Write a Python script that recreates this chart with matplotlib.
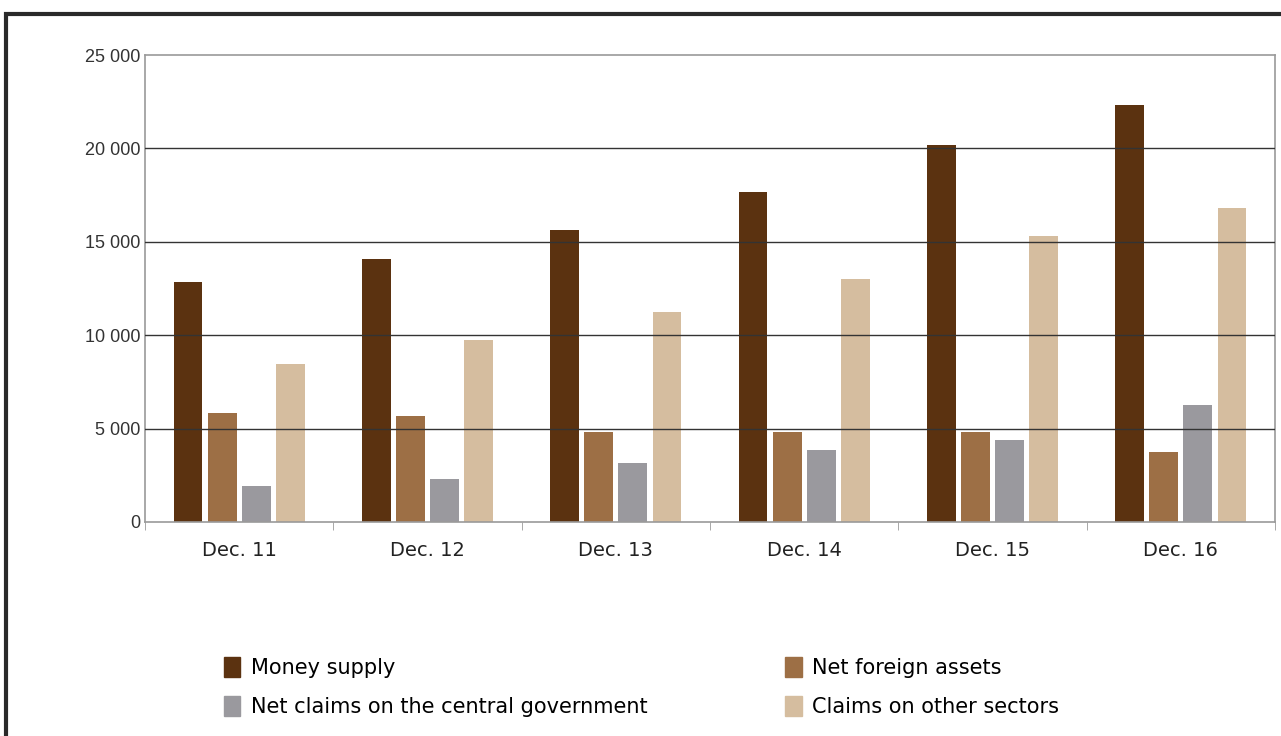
import matplotlib.pyplot as plt
import numpy as np
from matplotlib.patches import Patch, Rectangle

# Monetary aggregates, end of December each year
periods = ["Dec. 11", "Dec. 12", "Dec. 13", "Dec. 14", "Dec. 15", "Dec. 16"]
money_supply = [12850, 14100, 15650, 17650, 20200, 22300]
net_foreign_assets = [5850, 5650, 4800, 4800, 4800, 3750]
net_claims_govt = [1950, 2300, 3150, 3850, 4400, 6250]
claims_other = [8450, 9750, 11250, 13000, 15300, 16800]

series = [
    ("Money supply", money_supply, "#5b3210"),
    ("Net foreign assets", net_foreign_assets, "#9d6f45"),
    ("Net claims on the central government", net_claims_govt, "#9a999e"),
    ("Claims on other sectors", claims_other, "#d5bd9f"),
]

W, H = 1281, 736
fig = plt.figure(figsize=(W / 100, H / 100), dpi=100)
fig.patch.set_facecolor("white")

# heavy frame round the whole box (runs off the right and bottom edges)
fig.add_artist(Rectangle((6 / W, -0.05), 1.2, 1 - 14 / H + 0.05,
                         transform=fig.transFigure, fill=False,
                         edgecolor="#2a2a2a", linewidth=3))

ax = fig.add_axes([145 / W, 1 - 522 / H, (1275 - 145) / W, (522 - 55) / H])

x = np.arange(len(periods))
width = 0.153
step = 0.181
for i, (name, vals, col) in enumerate(series):
    ax.bar(x + (i - 1.5) * step, vals, width, color=col, label=name, zorder=1)

ax.set_xlim(-0.5, len(periods) - 0.5)
ax.set_ylim(0, 25000)

# dark gridlines drawn over the bars
for yv in [5000, 10000, 15000, 20000]:
    ax.axhline(yv, color="#333333", linewidth=1.0, zorder=3)

for s in ax.spines.values():
    s.set_color("#9a9a9a")
    s.set_linewidth(1.2)

ax.set_yticks([0, 5000, 10000, 15000, 20000, 25000])
ax.set_yticklabels(["0", "5 000", "10 000", "15 000", "20 000", "25 000"],
                   family="Liberation Sans", fontsize=13)
ax.tick_params(axis="y", length=0, pad=3, colors="#333333")

ax.set_xticks(x)
ax.set_xticklabels(periods, fontsize=14, family="DejaVu Sans")
ax.tick_params(axis="x", length=0, pad=14, colors="#222222")
ax.set_xticks(np.arange(-0.5, len(periods), 1.0), minor=True)
ax.tick_params(axis="x", which="minor", length=6, color="#9a9a9a")

handles = [Patch(color=c, label=n) for n, _, c in series]
order = [0, 2, 1, 3]
fig.legend([handles[k] for k in order], [series[k][0] for k in order],
           ncol=2, loc="upper left", bbox_to_anchor=(205 / W, 1 - 638 / H),
           frameon=False, handlelength=0.8, handleheight=1.1,
           handletextpad=0.5, columnspacing=6.6, labelspacing=0.85,
           prop={"family": "DejaVu Sans", "size": 15})

fig.savefig("out.png", dpi=100, facecolor="white")
